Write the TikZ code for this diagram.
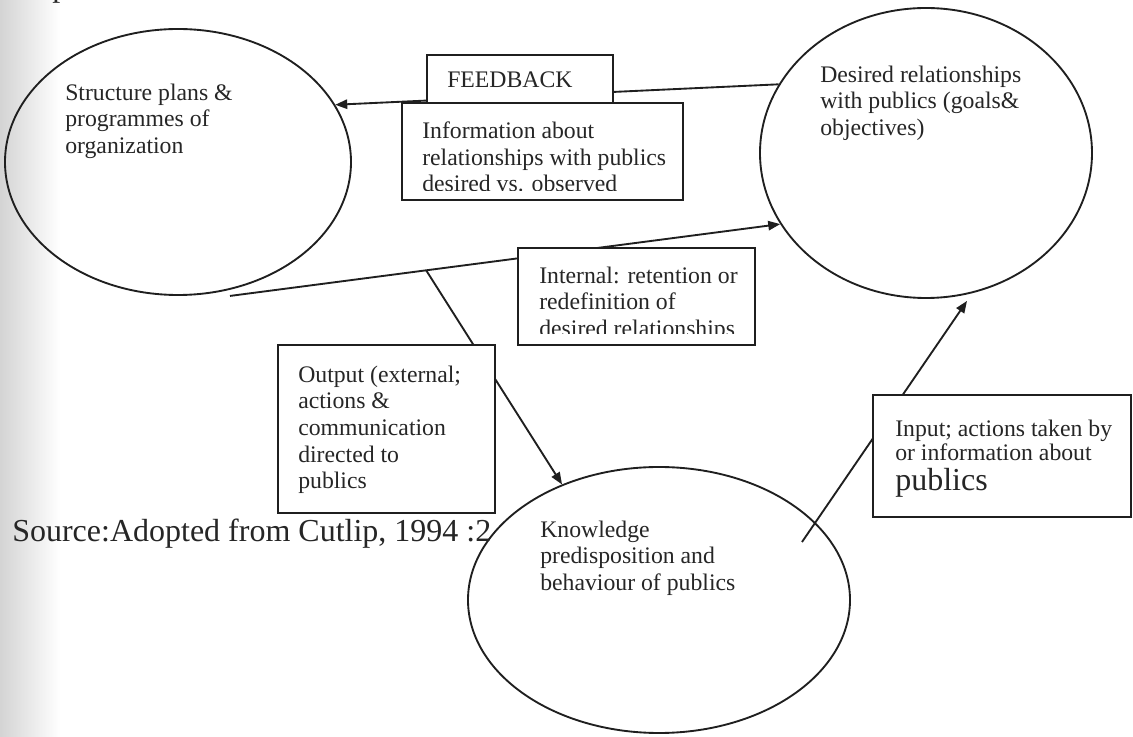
\documentclass[tikz,border=0pt]{standalone}
\usepackage{fontspec}
\setmainfont{Liberation Serif}
\usetikzlibrary{shapes.geometric,arrows.meta,calc}

\begin{document}
\begin{tikzpicture}[x=0.75pt,y=-0.75pt,
  ink/.style={draw=black!88, line width=1.4pt},
  bubble/.style={ink, ellipse, inner sep=0pt},
  panel/.style={ink, rectangle, fill=white, inner sep=0pt},
  txt/.style={text=black!85, font=\fontsize{17.8pt}{20pt}\selectfont,
              align=left, anchor=base west, inner sep=0pt},
  bigtxt/.style={text=black!85, font=\fontsize{24pt}{28pt}\selectfont,
                 anchor=base west, inner sep=0pt},
  link/.style={draw=black!88, line width=1.4pt},
  arrow/.style={link, -{Triangle[length=9pt,width=7pt]}}
]
% page
\useasboundingbox (0,0) rectangle (1133,737);
\clip (0,0) rectangle (1133,737);
\fill[white] (0,0) rectangle (1133,737);
\shade[left color=black!17, right color=white] (0,0) rectangle (60,737);

% the three states
\node[bubble, minimum width={346*0.75pt}, minimum height={266*0.75pt}] (le) at (178,162) {};
\node[bubble, minimum width={332*0.75pt}, minimum height={290*0.75pt}] (re) at (926,153) {};
\node[bubble, minimum width={382*0.75pt}, minimum height={266*0.75pt}] (ke) at (659,600) {};

% flows between them
\draw[arrow] (re.155) -- (le.20.6);
\coordinate (orgfoot) at ($(le.south)+(52,0)$);
\draw[arrow] (orgfoot) -- (re.206);
\coordinate (split) at ($(orgfoot)!0.3565!(re.206)$);
\draw[arrow] (split) -- (ke.130.6);
\coordinate (pubsrc) at ($(ke.center)+(143,-58)$);
\draw[arrow] (pubsrc) -- ($(re.south)+(41,2)$);

% labelled boxes laid over the flows
\node[panel, minimum width={186*0.75pt}, minimum height={48*0.75pt}] (fb) at (520,79) {};
\node[panel, minimum width={281*0.75pt}, minimum height={97*0.75pt}] (info) at (542.5,151.5) {};
\node[panel, minimum width={237*0.75pt}, minimum height={97*0.75pt}] (intl) at (636.5,296.5) {};
\node[panel, minimum width={217*0.75pt}, minimum height={168*0.75pt}] (outp) at (386.5,429) {};
\node[panel, minimum width={258*0.75pt}, minimum height={122*0.75pt}] (inp) at (1002,456) {};

% texts (a multi-line node sits on the baseline of its last line)
\node[txt] (letext) at (65,153.4) {Structure plans \&\\programmes of\\organization};
\node[txt] (retext) at (820,135.4) {Desired relationships\\with publics (goals\&\\objectives)};
\node[txt] (fbtext) at (447,88) {FEEDBACK};
\begin{scope}
  \clip (402,103) rectangle (683,191);
  \node[txt] (infotext) at (422,192) {Information about\\relationships with publics\\desired vs. observed};
\end{scope}
\begin{scope}
  \clip (518,248) rectangle (755,333.5);
  \node[txt] (intltext) at (539,336.4) {Internal: retention or\\redefinition of\\desired relationships};
\end{scope}
\node[txt] (outtext) at (298,488.8) {Output (external;\\actions \&\\communication\\directed to\\publics};
\node[txt] (ketext) at (540,590.4) {Knowledge\\predisposition and\\behaviour of publics};
\node[txt] (intext) at (895,491) {Input; actions taken by\\[-2pt]or information about\\[3pt]{\fontsize{24pt}{28pt}\selectfont publics}};
\node[bigtxt] (src) at (12,542) {Source:Adopted from Cutlip, 1994 :2};
\node[bigtxt] (pfrag) at (52,-3) {p};
\end{tikzpicture}
\end{document}
